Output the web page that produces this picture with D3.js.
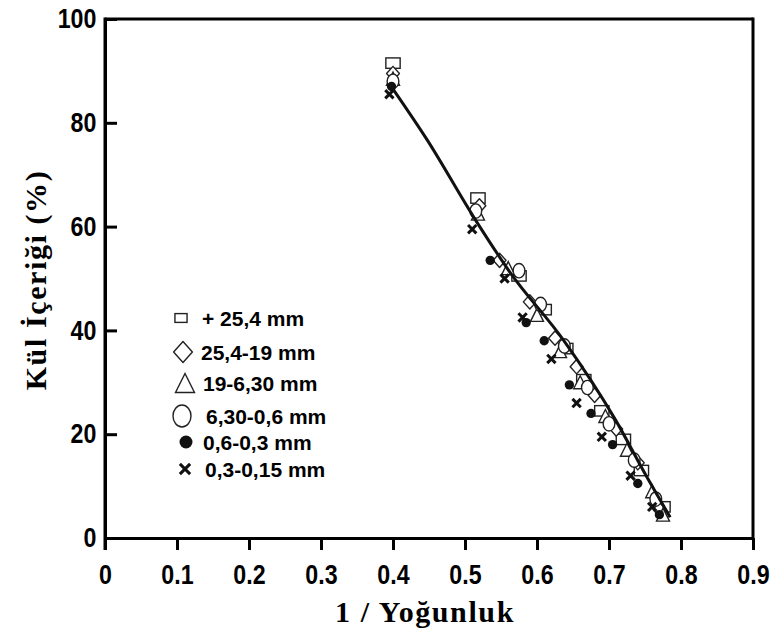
<!DOCTYPE html>
<html>
<head>
<meta charset="utf-8">
<script src="https://d3js.org/d3.v7.min.js"></script>
<style>
  body { margin: 0; background: white; }
  svg text { fill: #000; }
  .tick text { font-family: 'Liberation Sans Narrow', 'Arial Narrow', 'Liberation Sans', Arial, sans-serif; font-weight: bold; font-size: 27px; }
  .title { font-family: 'Liberation Serif', 'Times New Roman', serif; font-weight: bold; font-size: 30px; letter-spacing: 1.6px; }
  .leg { font-family: 'Liberation Sans', Arial, sans-serif; font-weight: bold; font-size: 21px; }
</style>
</head>
<body>
<svg width="778" height="632"></svg>
<script>
// axis ticks
var xTicks = [0, 0.1, 0.2, 0.3, 0.4, 0.5, 0.6, 0.7, 0.8, 0.9];
var yTicks = [0, 20, 40, 60, 80, 100];

// size classes (legend)
var classLabels = ['+ 25,4 mm', '25,4-19 mm', '19-6,30 mm', '6,30-0,6 mm', '0,6-0,3 mm', '0,3-0,15 mm'];
var classMarks  = ['square', 'diamond', 'triangle', 'ellipse', 'dot', 'cross'];

// 1/density vs ash content
var sqX  = [0.400, 0.518, 0.575, 0.610, 0.640, 0.665, 0.690, 0.720, 0.745, 0.775];
var sqY  = [91.5, 65.5, 50.5, 44.0, 36.5, 30.5, 24.5, 19.0, 13.0, 6.0];
var diaX = [0.400, 0.520, 0.548, 0.590, 0.625, 0.655, 0.680, 0.710, 0.740, 0.770];
var diaY = [89.5, 64.0, 53.5, 45.5, 38.5, 33.0, 27.5, 21.0, 14.5, 5.5];
var triX = [0.400, 0.518, 0.560, 0.600, 0.632, 0.660, 0.695, 0.725, 0.760, 0.775];
var triY = [88.5, 62.5, 52.0, 43.0, 36.0, 30.0, 23.5, 17.0, 9.0, 4.5];
var ellX = [0.400, 0.515, 0.575, 0.605, 0.638, 0.670, 0.700, 0.735, 0.765];
var ellY = [88.0, 63.0, 51.5, 45.0, 37.0, 29.0, 22.0, 15.0, 7.5];
var dotX = [0.398, 0.535, 0.585, 0.610, 0.645, 0.675, 0.705, 0.740, 0.770];
var dotY = [87.0, 53.5, 41.5, 38.0, 29.5, 24.0, 18.0, 10.5, 4.5];
var crsX = [0.395, 0.510, 0.555, 0.580, 0.620, 0.655, 0.690, 0.730, 0.760];
var crsY = [85.5, 59.5, 50.0, 42.5, 34.5, 26.0, 19.5, 12.0, 6.0];

// fitted curve
var fitX = [0.400, 0.447, 0.514, 0.5625, 0.6375, 0.708, 0.754, 0.785];
var fitY = [86.5, 76.8, 61.4, 51.2, 38.0, 23.0, 11.4, 4.0];

var seriesX = [sqX, diaX, triX, ellX, dotX, crsX];
var seriesY = [sqY, diaY, triY, ellY, dotY, crsY];

var svg = d3.select('svg');
var x = d3.scaleLinear().domain([0, 0.9]).range([105, 753]);
var y = d3.scaleLinear().domain([0, 100]).range([538, 19]);

// frame (top and right)
svg.append('line').attr('x1', x(0)).attr('x2', x(0.9)).attr('y1', y(100)).attr('y2', y(100))
  .attr('stroke', '#000').attr('stroke-width', 3);
svg.append('line').attr('x1', x(0.9)).attr('x2', x(0.9)).attr('y1', y(100) - 1.5).attr('y2', y(0))
  .attr('stroke', '#000').attr('stroke-width', 3);

var xAxis = d3.axisBottom(x).tickValues(xTicks).tickSize(12).tickSizeOuter(0).tickPadding(15)
  .tickFormat(function (d) { return d === 0 ? '0' : d.toFixed(1); });
var gx = svg.append('g').attr('transform', 'translate(0,' + y(0) + ')').call(xAxis);

var yAxis = d3.axisLeft(y).tickValues(yTicks).tickSize(-12).tickSizeOuter(0).tickPadding(10);
var gy = svg.append('g').attr('transform', 'translate(' + x(0) + ',0)').call(yAxis);

[gx, gy].forEach(function (g) {
  g.select('.domain').attr('stroke-width', 3);
  g.selectAll('.tick line').attr('stroke-width', 3);
  // narrow, tall digits as in the original
  g.selectAll('.tick text').attr('transform', 'scale(0.86,1)');
});
// left axis runs a bit below the x axis
svg.append('line').attr('x1', x(0)).attr('x2', x(0)).attr('y1', y(100) - 1.5).attr('y2', y(0) + 12)
  .attr('stroke', '#000').attr('stroke-width', 3);

// titles
svg.append('text').attr('class', 'title').attr('x', 425).attr('y', 622)
  .attr('text-anchor', 'middle').text('1 / Yoğunluk');
svg.append('text').attr('class', 'title').attr('text-anchor', 'middle')
  .attr('transform', 'translate(46,280) rotate(-90)').text('Kül İçeriği (%)');

// markers
function marker(g, type, s) {
  if (type === 'square') {
    g.append('rect').attr('x', -s * 0.55).attr('y', -s * 0.4).attr('width', s * 1.1).attr('height', s * 0.8)
      .attr('fill', 'white').attr('stroke', '#222').attr('stroke-width', 1.4);
  } else if (type === 'diamond') {
    var h = s * 0.55;
    g.append('path').attr('d', 'M0,' + (-h) + 'L' + h * 0.9 + ',0L0,' + h + 'L' + (-h * 0.9) + ',0Z')
      .attr('fill', 'white').attr('stroke', '#222').attr('stroke-width', 1.4).attr('stroke-linejoin', 'round');
  } else if (type === 'triangle') {
    var t = s * 0.5;
    g.append('path').attr('d', 'M0,' + (-t) + 'L' + t + ',' + t + 'L' + (-t) + ',' + t + 'Z')
      .attr('fill', 'white').attr('stroke', '#222').attr('stroke-width', 1.4);
  } else if (type === 'ellipse') {
    g.append('ellipse').attr('rx', s * 0.45).attr('ry', s * 0.55)
      .attr('fill', 'white').attr('stroke', '#222').attr('stroke-width', 1.4);
  } else if (type === 'dot') {
    g.append('circle').attr('r', s * 0.36).attr('fill', '#111');
  } else {
    var c = s * 0.32;
    g.append('path').attr('d', 'M' + (-c) + ',' + (-c) + 'L' + c + ',' + c + 'M' + c + ',' + (-c) + 'L' + (-c) + ',' + c)
      .attr('stroke', '#111').attr('stroke-width', 3);
  }
}

var plot = svg.append('g');
classMarks.forEach(function (m, i) {
  var pts = seriesX[i].map(function (v, j) { return [v, seriesY[i][j]]; });
  plot.selectAll(null).data(pts).join('g')
    .attr('transform', function (d) { return 'translate(' + x(d[0]) + ',' + y(d[1]) + ')'; })
    .each(function () { marker(d3.select(this), m, 13); });
});

// fitted line
svg.append('path')
  .datum(fitX.map(function (v, i) { return [v, fitY[i]]; }))
  .attr('d', d3.line().x(function (d) { return x(d[0]); }).y(function (d) { return y(d[1]); }).curve(d3.curveMonotoneX))
  .attr('fill', 'none').attr('stroke', '#111').attr('stroke-width', 3);

// legend
var legY  = [318, 352, 383, 416, 442, 469];
var legTx = [202, 201, 203, 206, 203, 205];
var legMx = [181, 183, 185, 182, 186, 185];
var legSz = [11, 19, 19, 20, 18, 16];
var leg = svg.append('g');
classLabels.forEach(function (lab, i) {
  var g = leg.append('g').attr('transform', 'translate(' + legMx[i] + ',' + legY[i] + ')');
  marker(g, classMarks[i], legSz[i]);
  leg.append('text').attr('class', 'leg').attr('x', legTx[i]).attr('y', legY[i] + 7.5).text(lab);
});
</script>
</body>
</html>
